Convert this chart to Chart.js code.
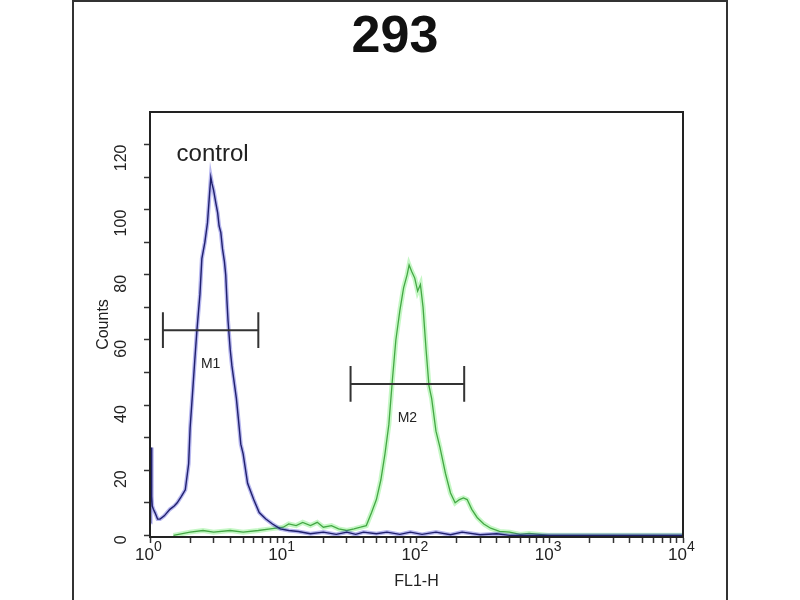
<!DOCTYPE html>
<html>
<head>
<meta charset="utf-8">
<script src="https://cdn.jsdelivr.net/npm/chart.js@4.4.0/dist/chart.umd.min.js"></script>
<style>
  html, body { margin: 0; padding: 0; background: #fff; }
  #wrap { width: 800px; height: 600px; }
</style>
</head>
<body>
<div id="wrap"><canvas id="chart" width="800" height="600"></canvas></div>
<script>
// datos (FL1-H en escala log, Counts lineal)
const controlX = [1.0, 1.01, 1.02, 1.03, 1.04, 1.06, 1.09, 1.14, 1.19, 1.28, 1.41, 1.52, 1.60, 1.72, 1.84, 1.95, 2.0, 2.08, 2.17, 2.25, 2.37, 2.45, 2.58, 2.70, 2.80, 2.86, 2.92, 3.0, 3.12, 3.22, 3.30, 3.40, 3.50, 3.62, 3.70, 3.78, 3.85, 4.0, 4.12, 4.25, 4.45, 4.6, 4.8, 5.0, 5.4, 6.0, 6.6, 7.4, 8.3, 9.5, 11, 13, 16, 20, 25, 30, 35, 40, 50, 60, 75, 90, 110, 140, 180, 220, 300, 400, 500, 10000];
const controlY = [4, 14, 27, 12, 9, 8, 7, 5, 5, 6, 8, 9, 10, 12, 14, 22, 33, 43, 54, 63, 74, 85, 90, 96, 105, 110, 108, 106, 102, 99, 95, 93, 88, 84, 80, 72, 66, 57, 52, 48, 42, 36, 28, 25, 16, 11, 7, 5, 3.5, 2, 1.5, 1.2, 0.5, 1, 0.3, 1, 0.3, 1, 0.5, 1, 0.3, 1, 0.3, 1, 0.2, 1, 0.2, 0.5, 0, 0];

const sampleX = [1.5, 2.0, 2.5, 3.0, 4.0, 5.0, 6.5, 8.0, 10, 11, 12.5, 14, 16, 18, 20, 23, 26, 30, 34, 38, 42, 46, 50, 54, 58, 62, 66, 70, 75, 80, 85, 88, 92, 97, 102, 107, 112, 118, 124, 130, 140, 150, 165, 180, 195, 210, 225, 240, 260, 285, 320, 360, 420, 500, 600, 700, 1000, 10000];
const sampleY = [0, 1, 1.5, 1, 1.5, 1, 1.5, 2, 2.5, 3.5, 3, 4, 3, 4, 2.5, 3, 2, 1.5, 2, 2.5, 3, 7, 11, 17, 25, 34, 48, 60, 69, 76, 80, 83, 81, 79, 75, 77, 70, 57, 46, 42, 32, 27, 19, 13, 10, 11, 11.5, 11, 8, 5.5, 3.5, 2.2, 1.2, 1, 0.3, 0.6, 0, 0];

// marcadores M1 y M2: [desde, hasta], nivel, alto de los topes
const m1Range = [1.25, 6.5];
const m1Level = 63;
const m2Range = [32, 228];
const m2Level = 46.5;
const capHalf = 5.5;
const markerNames = ["M1", "M2"];

const xTickDecades = [1, 10, 100, 1000, 10000];
const yTickLabels = [0, 20, 40, 60, 80, 100, 120];

const FONT = "'Liberation Sans', Arial, Helvetica, sans-serif";

const toPts = (xs, ys) => xs.map((x, i) => ({ x: x, y: ys[i] }));

function markerPts(range, level) {
  return [
    { x: range[0], y: level + capHalf }, { x: range[0], y: level - capHalf }, { x: range[0], y: null },
    { x: range[0], y: level }, { x: range[1], y: level }, { x: range[1], y: null },
    { x: range[1], y: level + capHalf }, { x: range[1], y: level - capHalf },
  ];
}

// marco exterior, titulo, borde del area y textos extra
const extras = {
  id: "extras",
  afterDraw(chart) {
    const { ctx, chartArea: a, scales } = chart;
    const xs = scales.x, ys = scales.y;
    ctx.save();
    ctx.strokeStyle = "#333";
    ctx.lineWidth = 2;
    ctx.strokeRect(73, 1, 654, 602);
    ctx.strokeStyle = "#222";
    ctx.strokeRect(a.left, a.top, a.right - a.left, a.bottom - a.top);

    ctx.fillStyle = "#111";
    ctx.textAlign = "center";
    ctx.textBaseline = "middle";
    ctx.font = "bold 52px " + FONT;
    ctx.fillText("293", 395, 38);

    ctx.fillStyle = "#222";
    ctx.font = "24px " + FONT;
    ctx.fillText("control", xs.getPixelForValue(2.95), ys.getPixelForValue(117));

    ctx.font = "14px " + FONT;
    [[m1Range, m1Level], [m2Range, m2Level]].forEach(([r, lv], i) => {
      const mid = Math.sqrt(r[0] * r[1]);
      ctx.fillText(markerNames[i], xs.getPixelForValue(mid), ys.getPixelForValue(lv) + 34);
    });

    // etiquetas 10^n con exponente
    xTickDecades.forEach((v) => {
      const px = xs.getPixelForValue(v);
      const exp = String(Math.round(Math.log10(v)));
      ctx.textBaseline = "alphabetic";
      ctx.font = "17px " + FONT;
      ctx.textAlign = "right";
      ctx.fillText("10", px + 4, a.bottom + 23);
      ctx.font = "14px " + FONT;
      ctx.textAlign = "left";
      ctx.fillText(exp, px + 4, a.bottom + 14);
    });
    ctx.restore();
  },
};

const minorTicks = [];
for (let d = 0; d < 4; d++) {
  for (let m = 1; m < 10; m++) minorTicks.push(m * Math.pow(10, d));
}
minorTicks.push(10000);

new Chart(document.getElementById("chart"), {
  type: "scatter",
  data: {
    datasets: [
      { data: markerPts(m1Range, m1Level), borderColor: "#333", borderWidth: 2, showLine: true, pointRadius: 0, spanGaps: false, order: -1 },
      { data: markerPts(m2Range, m2Level), borderColor: "#333", borderWidth: 2, showLine: true, pointRadius: 0, spanGaps: false, order: -1 },
      { data: toPts(controlX, controlY), borderColor: "#20206e", borderWidth: 1.4, showLine: true, pointRadius: 0, order: 0 },
      { data: toPts(controlX, controlY), borderColor: "rgba(50,50,210,0.35)", borderWidth: 4, showLine: true, pointRadius: 0, order: 1 },
      { data: toPts(sampleX, sampleY), borderColor: "#44a844", borderWidth: 1.3, showLine: true, pointRadius: 0, order: 2 },
      { data: toPts(sampleX, sampleY), borderColor: "rgba(110,235,110,0.4)", borderWidth: 5, showLine: true, pointRadius: 0, order: 3 },
    ],
  },
  options: {
    responsive: false,
    animation: false,
    layout: { padding: { left: 90, right: 117, top: 112, bottom: 5 } },
    plugins: {
      legend: { display: false },
      tooltip: { enabled: false },
    },
    scales: {
      x: {
        type: "logarithmic",
        min: 1,
        max: 10000,
        afterBuildTicks: (s) => { s.ticks = minorTicks.map((v) => ({ value: v })); },
        afterFit: (s) => { s.height = 58; },
        ticks: { display: false },
        grid: { drawOnChartArea: false, tickLength: 6, tickWidth: 1.5, tickColor: "#333" },
        border: { color: "#222", width: 2 },
        title: { display: true, text: "FL1-H", color: "#222", font: { family: FONT, size: 16 } },
      },
      y: {
        min: -0.5,
        max: 130,
        afterBuildTicks: (s) => {
          const t = [];
          for (let v = 0; v <= 125; v += 5) t.push({ value: v });
          s.ticks = t;
        },
        afterFit: (s) => { s.width = 60; },
        ticks: {
          minRotation: 90,
          maxRotation: 90,
          padding: 22,
          color: "#222",
          font: { family: FONT, size: 16 },
          callback: (v) => (yTickLabels.includes(v) ? String(v) : ""),
        },
        grid: { drawOnChartArea: false, tickLength: 6, tickWidth: 1.5, tickColor: "#333" },
        border: { color: "#222", width: 2 },
        title: { display: true, text: "Counts", color: "#222", font: { family: FONT, size: 16 } },
      },
    },
  },
  plugins: [extras],
});
</script>
</body>
</html>
